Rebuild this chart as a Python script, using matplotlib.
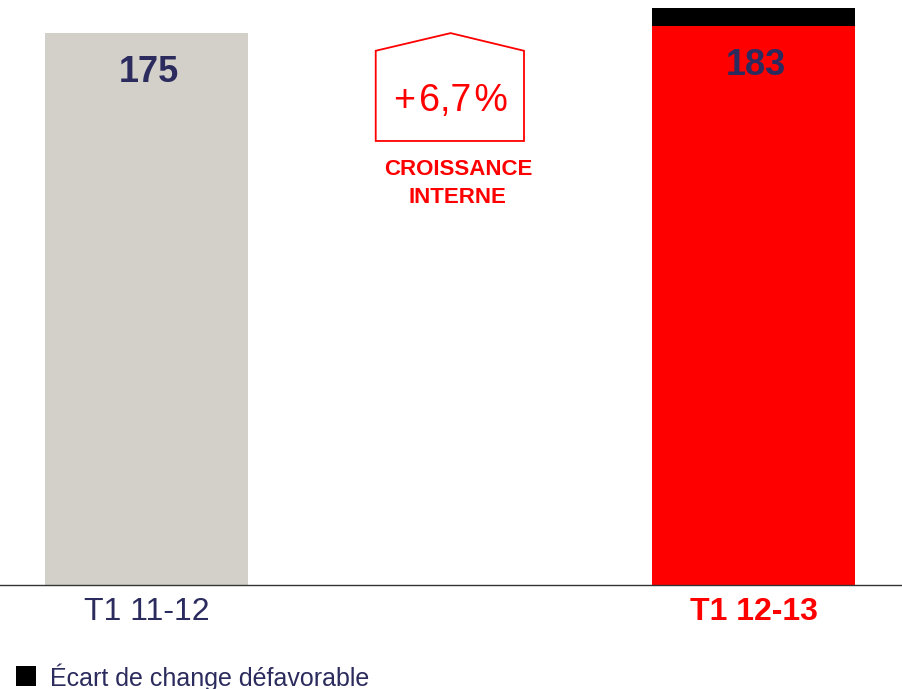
import matplotlib
matplotlib.use("Agg")
import matplotlib.pyplot as plt
from matplotlib.patches import Polygon, Rectangle

plt.rcParams['font.family'] = ['Liberation Sans', 'DejaVu Sans']

# Data
categories = ["T1 11-12", "T1 12-13"]
base_values = [175, 177.3]       # main bar segments
fx_effect = [0, 5.7]             # unfavorable exchange effect (black segment)
value_labels = ["175", "183"]
growth_label = "+\u200a6,7\u200a%"
growth_caption = "CROISSANCE\nINTERNE"
legend_label = "Écart de change défavorable"

NAVY = "#2B2B5E"
GRAY = "#D3D0CA"
RED = "#FF0000"

fig = plt.figure(figsize=(9.03, 6.89), dpi=100)
ax = fig.add_axes([0, 1 - 585 / 689, 1, 585 / 689])

x = [0, 1]
width = 0.334
ax.bar(x, base_values, width=width, color=[GRAY, RED], zorder=2)
ax.bar(x, fx_effect, width=width, bottom=base_values, color="black", zorder=2)

ax.set_xlim(-0.2414, 1.2463)
ax.set_ylim(0, 185.5)

for xi, v, lab in zip(x, base_values, value_labels):
    ax.text(xi + 0.004, v - 12.6, lab, ha="center", va="center", fontsize=26,
            fontweight="bold", color=NAVY)

# Pentagon callout
pent = Polygon([(0.3776, 140.8), (0.3776, 169.4), (0.501, 175.0),
                (0.6219, 169.4), (0.6219, 140.8)], closed=True,
               fill=False, edgecolor=RED, linewidth=1.3, zorder=3)
ax.add_patch(pent)
ax.text(0.501, 153.6, growth_label, ha="center", va="center", fontsize=27,
        color=RED)
ax.text(0.513, 127.3, growth_caption, ha="center", va="center", fontsize=16,
        fontweight="bold", color=RED, linespacing=1.45)

# Axis styling
for s in ["top", "right", "left"]:
    ax.spines[s].set_visible(False)
ax.spines["bottom"].set_color("#333333")
ax.spines["bottom"].set_linewidth(1.0)
ax.set_yticks([])
ax.set_xticks(x)
ax.set_xticklabels(categories)
ax.tick_params(axis="x", length=0, pad=9, labelsize=23)
tl = ax.get_xticklabels()
tl[0].set_color(NAVY)
tl[1].set_color(RED)
tl[1].set_fontweight("bold")

# Legend
fig.patches.append(Rectangle((16 / 903, 1 - 686 / 689), 20 / 903, 20 / 689,
                             transform=fig.transFigure, facecolor="black",
                             edgecolor="none"))
fig.text(50 / 903, 1 - 677 / 689, legend_label, ha="left", va="center",
         fontsize=18, color=NAVY)

fig.savefig("out.png", dpi=100)
